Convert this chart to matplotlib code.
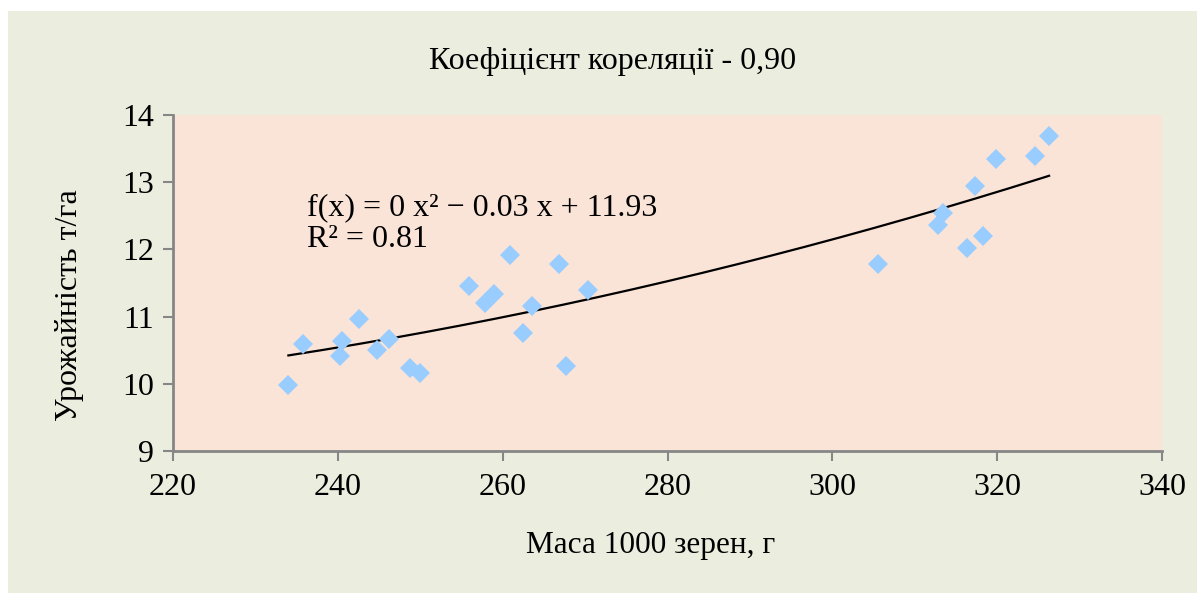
import numpy as np
import matplotlib
matplotlib.use("Agg")
import matplotlib.pyplot as plt
from matplotlib.patches import Rectangle

plt.rcParams['font.family'] = ['Liberation Serif', 'DejaVu Serif']

# Data: mass of 1000 grains (g) vs yield (t/ha)
mass = [234.0, 235.8, 240.3, 240.5, 242.6, 244.8, 246.2, 248.7, 250.0,
        255.9, 257.8, 259.0, 260.9, 262.5, 263.6, 266.8, 267.7, 270.4,
        305.5, 312.8, 313.4, 316.4, 317.3, 318.3, 319.8, 324.6, 326.3]
yield_ = [9.98, 10.59, 10.41, 10.64, 10.96, 10.51, 10.67, 10.23, 10.16,
          11.46, 11.20, 11.34, 11.92, 10.75, 11.16, 11.79, 10.26, 11.39,
          11.78, 12.36, 12.54, 12.02, 12.94, 12.20, 13.35, 13.39, 13.69]

title = "Коефіцієнт кореляції - 0,90"
xlabel = "Маса 1000 зерен, г"
ylabel = "Урожайність т/га"
eq_line1 = "f(x) = 0 x² − 0.03 x + 11.93"
eq_line2 = "R² = 0.81"
xticks = [220, 240, 260, 280, 300, 320, 340]
yticks = [9, 10, 11, 12, 13, 14]

W, H = 1197, 593
FS = 23
fig = plt.figure(figsize=(W / 100, H / 100), dpi=100, facecolor='white')
fig.patches.append(Rectangle((8 / W, 0), 1 - 8 / W, 1 - 11 / H,
                             transform=fig.transFigure, facecolor='#EBEEDF',
                             edgecolor='none', zorder=-10))

ax = fig.add_axes([173 / W, 1 - 451 / H, (1162 - 173) / W, (451 - 115) / H])
ax.set_facecolor('#FAE4D8')

x = np.array(mass)
y = np.array(yield_)
coef = np.polyfit(x, y, 2)
xx = np.linspace(x.min(), x.max(), 200)
ax.plot(xx, np.polyval(coef, xx), color='black', lw=1.6, zorder=2)
ax.plot(x, y, linestyle='none', marker='D', markersize=10,
        color='#99CCFF', markeredgewidth=0, zorder=3)

ax.set_xlim(220, 340)
ax.set_ylim(9, 14)
ax.set_xticks(xticks)
ax.set_yticks(yticks)
for s in ['top', 'right']:
    ax.spines[s].set_visible(False)
for s in ['left', 'bottom']:
    ax.spines[s].set_color('#868686')
    ax.spines[s].set_linewidth(2)
ax.tick_params(axis='both', colors='#868686', length=7.5, width=1.5,
               labelsize=FS, labelcolor='black', direction='out')
ax.tick_params(axis='y', pad=6)
ax.tick_params(axis='x', pad=8)

ax.text(236.2, 12.51, eq_line1, fontsize=FS, color='black',
        ha='left', va='baseline')
ax.text(236.2, 12.03, eq_line2, fontsize=FS, color='black',
        ha='left', va='baseline')

fig.text(613 / W, 1 - 62 / H, title, fontsize=FS, ha='center', va='center')
fig.text(651 / W, 1 - 553 / H, xlabel, fontsize=22.5, ha='center',
         va='baseline')
fig.text(70 / W, 1 - 305 / H, ylabel, fontsize=FS, ha='center', va='center',
         rotation=90)

fig.savefig('out.png', dpi=100, facecolor=fig.get_facecolor())
